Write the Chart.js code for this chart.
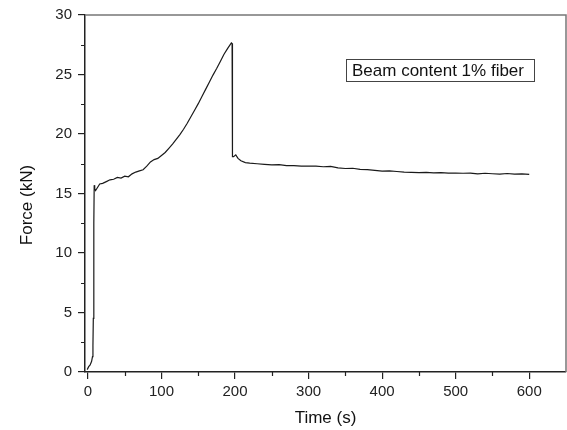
<!DOCTYPE html>
<html>
<head>
<meta charset="utf-8">
<script src="https://cdn.jsdelivr.net/npm/chart.js@4.4.0/dist/chart.umd.min.js"></script>
<style>
  body { margin: 0; background: #fff; }
  canvas { display: block; }
</style>
</head>
<body>
<canvas id="force-chart" width="567" height="430"></canvas>
<script>
// time (s) and force (kN)
const timeSec = [
  -1, 1, 3, 5, 6.2, 6.8, 7.3, 7.8, 8.2, 8.5, 9.2, 10.4, 13, 16, 20, 25, 30, 35, 40, 45,
  50, 55, 60, 65, 70, 75, 80, 85, 90, 95, 100, 105, 110, 115, 120, 125, 130, 135, 140, 145,
  150, 155, 160, 165, 170, 175, 180, 185, 190, 195, 196, 196.5, 198, 201, 204, 208, 214, 220, 230, 240,
  250, 260, 270, 280, 290, 300, 310, 320, 330, 340, 350, 360, 370, 380, 390, 400, 410, 420, 430, 440,
  450, 460, 470, 480, 490, 500, 510, 520, 530, 540, 550, 560, 570, 580, 590, 600
]
const forceKN = [
  0.2, 0.45, 0.6, 0.9, 1.3, 2.2, 4.5, 8.5, 12.5, 15.7, 15.4, 15.25, 15.5, 15.8, 15.85, 16.0, 16.15, 16.2, 16.35, 16.3,
  16.45, 16.4, 16.65, 16.8, 16.9, 17.0, 17.3, 17.65, 17.85, 17.95, 18.2, 18.45, 18.8, 19.15, 19.55, 19.95, 20.4, 20.9, 21.45, 22.0,
  22.55, 23.15, 23.75, 24.35, 24.95, 25.5, 26.1, 26.7, 27.2, 27.65, 27.6, 18.1, 18.1, 18.25, 17.95, 17.75, 17.6, 17.55, 17.5, 17.45,
  17.4, 17.43, 17.35, 17.35, 17.3, 17.3, 17.3, 17.25, 17.28, 17.15, 17.1, 17.12, 17.02, 17.0, 16.95, 16.88, 16.9, 16.85, 16.8, 16.78,
  16.75, 16.78, 16.74, 16.75, 16.72, 16.72, 16.7, 16.72, 16.65, 16.7, 16.66, 16.62, 16.68, 16.62, 16.65, 16.6
]

const xTicks = [0, 100, 200, 300, 400, 500, 600]
const xMinorTicks = [50, 150, 250, 350, 450, 550]
const yTicks = [0, 5, 10, 15, 20, 25, 30]
const yMinorTicks = [2.5, 7.5, 12.5, 17.5, 22.5, 27.5]
const xTitle = 'Time (s)'
const yTitle = 'Force (kN)'
const legendText = 'Beam content 1% fiber'

const FONT = '"Liberation Sans", Arial, sans-serif'
const AXIS_COLOR = '#222'

const points = timeSec.map((t, i) => ({ x: t, y: forceKN[i] }))

// minor ticks, frame, y title and the label box
const extras = {
  id: 'extras',
  afterDraw(chart) {
    const { ctx, chartArea: a, scales: { x, y } } = chart
    ctx.save()
    ctx.strokeStyle = AXIS_COLOR
    ctx.lineWidth = 1.2
    ctx.beginPath()
    xMinorTicks.forEach(v => {
      const px = Math.round(x.getPixelForValue(v)) + 0.5
      ctx.moveTo(px, a.bottom)
      ctx.lineTo(px, a.bottom + 4)
    })
    yMinorTicks.forEach(v => {
      const py = Math.round(y.getPixelForValue(v)) + 0.5
      ctx.moveTo(a.left, py)
      ctx.lineTo(a.left - 4, py)
    })
    ctx.stroke()

    // top and right frame
    ctx.strokeStyle = '#777'
    ctx.lineWidth = 1.5
    ctx.beginPath()
    ctx.moveTo(a.left, a.top)
    ctx.lineTo(a.right, a.top)
    ctx.lineTo(a.right, a.bottom)
    ctx.stroke()

    // y title
    ctx.fillStyle = '#111'
    ctx.font = '17px ' + FONT
    ctx.textAlign = 'center'
    ctx.textBaseline = 'middle'
    ctx.translate(27, 205)
    ctx.rotate(-Math.PI / 2)
    ctx.fillText(yTitle, 0, 0)
    ctx.restore()

    // label box
    ctx.save()
    ctx.strokeStyle = '#444'
    ctx.lineWidth = 1
    ctx.strokeRect(346.5, 59.5, 188, 22)
    ctx.fillStyle = '#111'
    ctx.font = '17px ' + FONT
    ctx.textBaseline = 'middle'
    ctx.fillText(legendText, 352, 71)
    ctx.restore()
  }
}

function tickList(values) {
  return scale => { scale.ticks = values.map(v => ({ value: v })) }
}

new Chart(document.getElementById('force-chart'), {
  type: 'scatter',
  data: {
    datasets: [{
      label: legendText,
      data: points,
      showLine: true,
      borderColor: '#1a1a1a',
      borderWidth: 1.2,
      pointRadius: 0,
      tension: 0,
    }]
  },
  options: {
    responsive: false,
    devicePixelRatio: 1,
    animation: false,
    layout: { padding: { top: 14, right: 1, left: 0, bottom: 0 } },
    plugins: {
      legend: { display: false },
      tooltip: { enabled: false },
    },
    scales: {
      x: {
        type: 'linear',
        min: -4,
        max: 650,
        afterBuildTicks: tickList(xTicks),
        afterFit: s => { s.height = 58 },
        ticks: { color: AXIS_COLOR, font: { family: FONT, size: 15 }, padding: 4, maxRotation: 0 },
        grid: { drawOnChartArea: false, tickLength: 7, color: AXIS_COLOR, lineWidth: 1.2 },
        border: { color: AXIS_COLOR, width: 1.5 },
        title: { display: true, text: xTitle, color: '#111', font: { family: FONT, size: 17 }, padding: { top: 0, bottom: 1 } },
      },
      y: {
        min: 0,
        max: 30,
        afterBuildTicks: tickList(yTicks),
        afterFit: s => { s.width = 85 },
        ticks: { color: AXIS_COLOR, font: { family: FONT, size: 15 }, padding: 6 },
        grid: { drawOnChartArea: false, tickLength: 7, color: AXIS_COLOR, lineWidth: 1.2 },
        border: { color: AXIS_COLOR, width: 1.5 },
      },
    },
  },
  plugins: [extras],
})
</script>
</body>
</html>
